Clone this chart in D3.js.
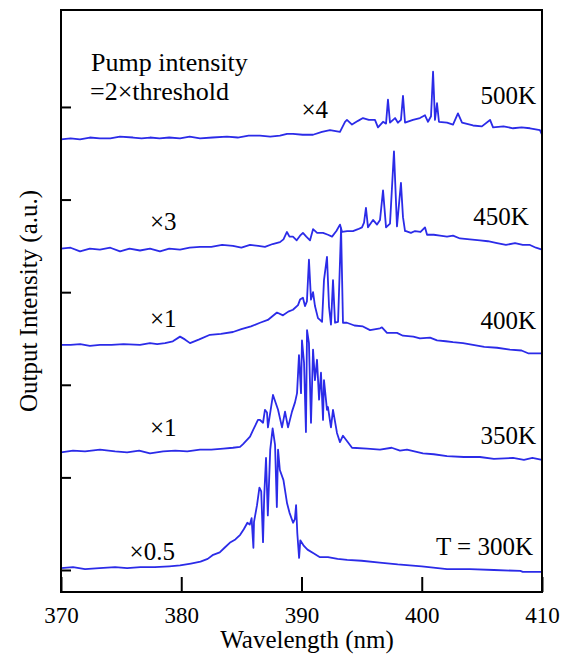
<!DOCTYPE html>
<html>
<head>
<meta charset="utf-8">
<script src="https://cdn.jsdelivr.net/npm/d3@7"></script>
</head>
<body style="margin:0; background:#fff">
<svg id="chart" width="573" height="662" font-family="Liberation Serif"></svg>
<script>
// Spectra: [wavelength nm, intensity a.u. incl. stack offset]
const spec300 = [[370.0,0.02],[371.0,0.03],[372.0,0.01],[373.2,0.02],[374.5,0.03],[375.5,0.02],[376.6,0.03],[377.8,0.03],[379.0,0.04],[379.9,0.05],[380.8,0.07],[381.6,0.09],[382.2,0.12],[382.6,0.16],[383.2,0.19],[383.6,0.24],[384.1,0.30],[384.5,0.33],[384.9,0.38],[385.2,0.44],[385.5,0.51],[385.7,0.49],[385.85,0.56],[386.0,0.24],[386.05,0.52],[386.3,0.70],[386.5,0.89],[386.65,0.85],[386.8,0.30],[386.9,0.80],[387.05,1.21],[387.2,0.59],[387.4,1.30],[387.6,1.53],[387.8,1.35],[387.95,0.68],[388.05,1.30],[388.2,1.08],[388.5,0.97],[388.8,0.72],[389.0,0.62],[389.3,0.51],[389.45,0.55],[389.55,0.70],[389.65,0.40],[389.8,0.13],[389.9,0.32],[390.2,0.26],[390.5,0.22],[391.0,0.18],[391.5,0.14],[392.2,0.14],[393.0,0.12],[393.8,0.11],[395.0,0.10],[396.5,0.08],[398.0,0.06],[400.0,0.04],[402.1,0.01],[404.0,0.01],[406.0,0.00],[408.2,-0.01],[408.4,-0.02],[410.0,-0.02]];

const spec350 = [[370.0,1.27],[371.0,1.29],[372.0,1.28],[373.24,1.30],[374.5,1.28],[375.5,1.27],[376.5,1.29],[377.4,1.26],[378.5,1.28],[379.5,1.29],[380.5,1.28],[381.56,1.30],[382.5,1.30],[383.5,1.31],[384.3,1.32],[384.89,1.33],[385.14,1.36],[385.72,1.44],[385.97,1.51],[386.38,1.62],[386.55,1.62],[386.8,1.59],[386.96,1.73],[387.13,1.70],[387.21,1.54],[387.63,1.89],[388.05,1.73],[388.38,1.54],[388.63,1.71],[388.88,1.54],[389.21,1.71],[389.46,1.81],[389.63,1.91],[389.79,2.32],[389.96,1.91],[390.04,2.48],[390.21,2.24],[390.37,1.49],[390.46,2.59],[390.62,2.45],[390.79,1.59],[390.96,2.38],[391.12,2.05],[391.29,2.27],[391.46,1.84],[391.62,2.13],[391.79,1.62],[391.87,2.05],[392.12,1.73],[392.2,1.76],[392.45,1.54],[392.62,1.73],[392.95,1.48],[393.2,1.38],[393.45,1.45],[394.03,1.35],[394.2,1.32],[395.45,1.31],[396.53,1.30],[397.5,1.32],[398.19,1.29],[398.77,1.30],[400.1,1.26],[401.0,1.25],[402.1,1.23],[403.5,1.22],[404.84,1.22],[406.0,1.20],[407.59,1.21],[408.5,1.19],[409.2,1.21],[410.0,1.19]];

const spec400 = [[370.0,2.43],[370.8,2.43],[371.6,2.44],[372.4,2.42],[373.24,2.43],[374.2,2.43],[375.2,2.44],[376.57,2.43],[377.4,2.45],[378.0,2.44],[378.65,2.45],[379.3,2.47],[379.9,2.52],[380.3,2.49],[380.73,2.45],[381.5,2.49],[382.39,2.54],[383.3,2.55],[384.3,2.57],[385.0,2.60],[385.8,2.63],[386.55,2.67],[387.2,2.70],[387.96,2.78],[388.46,2.75],[388.9,2.79],[389.29,2.81],[389.71,2.86],[389.88,2.92],[390.12,2.94],[390.29,2.85],[390.45,2.90],[390.62,3.35],[390.79,2.92],[390.96,3.00],[391.12,2.85],[391.37,2.72],[391.54,2.70],[391.71,2.68],[391.87,3.13],[392.12,3.38],[392.29,2.84],[392.45,2.65],[392.62,3.13],[392.79,2.67],[393.04,2.68],[393.29,3.69],[393.45,2.67],[393.78,2.67],[394.4,2.64],[395.11,2.63],[395.7,2.59],[396.53,2.61],[396.69,2.62],[397.11,2.56],[397.94,2.56],[398.44,2.53],[399.3,2.52],[399.85,2.50],[400.69,2.51],[401.27,2.48],[402.0,2.47],[402.6,2.46],[403.43,2.45],[404.26,2.43],[405.2,2.41],[406.26,2.40],[407.34,2.38],[408.3,2.37],[408.84,2.34],[410.0,2.34]];

const spec450 = [[370.0,3.47],[370.8,3.48],[371.58,3.44],[372.4,3.47],[373.24,3.46],[374.1,3.48],[374.91,3.44],[375.7,3.47],[376.57,3.45],[377.4,3.47],[378.23,3.44],[379.0,3.47],[379.9,3.46],[380.7,3.48],[381.56,3.49],[382.5,3.49],[383.4,3.51],[384.3,3.50],[385.0,3.48],[385.72,3.51],[386.4,3.50],[386.96,3.49],[387.6,3.52],[388.21,3.54],[388.5,3.57],[388.79,3.65],[389.0,3.60],[389.29,3.60],[389.6,3.56],[389.88,3.61],[390.12,3.64],[390.4,3.60],[390.71,3.56],[390.96,3.68],[391.3,3.64],[391.79,3.64],[392.2,3.62],[392.54,3.60],[392.9,3.66],[393.2,3.73],[393.37,3.65],[393.8,3.66],[394.28,3.66],[394.7,3.68],[395.03,3.70],[395.2,3.75],[395.36,3.91],[395.53,3.70],[395.95,3.78],[396.28,3.73],[396.53,3.78],[396.78,4.10],[397.03,3.70],[397.36,3.74],[397.69,4.52],[397.94,3.71],[398.27,4.18],[398.44,3.81],[398.61,3.66],[398.69,3.66],[399.1,3.64],[399.44,3.66],[399.9,3.65],[400.27,3.70],[400.44,3.62],[401.0,3.62],[401.52,3.61],[402.1,3.60],[402.6,3.61],[403.18,3.58],[404.0,3.57],[404.84,3.56],[405.5,3.55],[406.26,3.53],[407.0,3.51],[407.76,3.53],[408.4,3.51],[409.0,3.51],[409.5,3.48],[410.0,3.46]];

const spec500 = [[370.0,4.65],[370.8,4.66],[371.58,4.65],[372.4,4.67],[373.24,4.66],[374.1,4.66],[374.9,4.68],[375.99,4.67],[376.7,4.66],[377.4,4.67],[378.2,4.66],[379.0,4.67],[379.9,4.66],[380.7,4.68],[381.56,4.66],[382.6,4.67],[383.8,4.68],[384.7,4.67],[385.6,4.69],[386.55,4.69],[387.4,4.68],[388.21,4.69],[388.8,4.71],[389.29,4.71],[390.1,4.70],[390.96,4.70],[391.7,4.73],[392.37,4.75],[393.2,4.73],[393.62,4.84],[393.78,4.86],[394.2,4.81],[394.7,4.85],[395.11,4.88],[395.6,4.86],[396.11,4.86],[396.36,4.78],[396.78,4.84],[397.03,4.82],[397.19,5.08],[397.36,4.83],[397.78,4.88],[398.02,4.83],[398.27,4.86],[398.44,5.12],[398.61,4.83],[399.27,4.86],[399.85,4.88],[400.27,4.91],[400.52,4.84],[400.77,4.90],[400.94,5.38],[401.1,4.86],[401.27,5.04],[401.43,4.84],[402.1,4.83],[402.6,4.81],[403.01,4.93],[403.35,4.83],[404.26,4.80],[405.0,4.79],[405.68,4.86],[405.93,4.78],[406.8,4.79],[407.59,4.77],[408.3,4.78],[409.0,4.77],[409.83,4.75],[410.0,4.70]];

const tempLabels = ["T = 300K", "350K", "400K", "450K", "500K"];
const scaleLabels = ["\u00d70.5", "\u00d71", "\u00d71", "\u00d73", "\u00d74"];
const xTicks = [370, 380, 390, 400, 410];
const yTicks = [0, 1, 2, 3, 4, 5];

const svg = d3.select('#chart');
const plotLeft = 61, plotRight = 542, plotTop = 10, plotBottom = 592;

const x = d3.scaleLinear().domain([370, 410]).range([plotLeft, plotRight]);
const y = d3.scaleLinear().domain([-0.2376, 6.047]).range([plotBottom, plotTop]);

// curves
const line = d3.line().x(d => x(d[0])).y(d => y(d[1]));
const allSpectra = [spec300, spec350, spec400, spec450, spec500];
svg.append('g')
    .selectAll('path')
    .data(allSpectra)
    .enter()
    .append('path')
    .attr('d', line)
    .attr('fill', 'none')
    .attr('stroke', '#2b2be8')
    .attr('stroke-width', 1.8)
    .attr('stroke-linejoin', 'round');

// axes (ticks point inward)
const xAxis = svg.append('g')
    .attr('transform', `translate(0,${plotBottom})`)
    .call(d3.axisBottom(x).tickValues(xTicks).tickSizeInner(-15).tickSizeOuter(0).tickPadding(8));
xAxis.select('.domain').remove();
xAxis.selectAll('line').attr('stroke-width', 2);
xAxis.selectAll('text')
    .attr('font-size', 23)
    .attr('dy', '1.0em');

const yAxis = svg.append('g')
    .attr('transform', `translate(${plotLeft},0)`)
    .call(d3.axisLeft(y).tickValues(yTicks).tickSizeInner(-10).tickSizeOuter(0).tickFormat(''));
yAxis.select('.domain').remove();
yAxis.selectAll('line').attr('stroke-width', 2);

// frame
svg.append('rect')
    .attr('x', plotLeft).attr('y', plotTop)
    .attr('width', plotRight - plotLeft).attr('height', plotBottom - plotTop)
    .attr('fill', 'none')
    .attr('stroke', '#000')
    .attr('stroke-width', 2);

// curve labels
const tempPos = [[409.25, 0.16], [409.5, 1.36], [409.5, 2.60], [408.9, 3.73], [409.5, 5.03]];
svg.append('g')
    .selectAll('text')
    .data(tempLabels)
    .enter()
    .append('text')
    .attr('x', (d, i) => x(tempPos[i][0]))
    .attr('y', (d, i) => y(tempPos[i][1]))
    .attr('text-anchor', 'end')
    .attr('font-size', 25)
    .text(d => d);

const scalePos = [[375.7, 0.11], [377.4, 1.45], [377.4, 2.62], [377.4, 3.67], [390.0, 4.88]];
svg.append('g')
    .selectAll('text')
    .data(scaleLabels)
    .enter()
    .append('text')
    .attr('x', (d, i) => x(scalePos[i][0]))
    .attr('y', (d, i) => y(scalePos[i][1]))
    .attr('font-size', 25)
    .text(d => d);

// pump note
svg.append('text').attr('x', 91).attr('y', 71).attr('font-size', 26).text('Pump intensity');
svg.append('text').attr('x', 90).attr('y', 100).attr('font-size', 26).text('=2\u00d7threshold');

// axis titles
svg.append('text')
    .attr('x', 307).attr('y', 648)
    .attr('text-anchor', 'middle')
    .attr('font-size', 25)
    .text('Wavelength (nm)');

svg.append('text')
    .attr('transform', 'translate(37,301) rotate(-90)')
    .attr('text-anchor', 'middle')
    .attr('font-size', 25)
    .text('Output Intensity (a.u.)');

// same serif face on every label
svg.selectAll('text')
    .attr('font-family', 'Liberation Serif')
    .style('font-family', '"Liberation Serif"')
    .attr('fill', '#000');
</script>
</body>
</html>
